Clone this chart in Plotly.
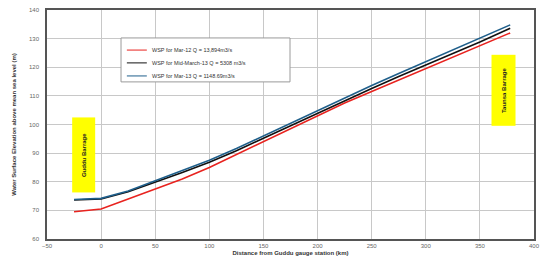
import plotly.graph_objects as go

# Data (approximate)
distance_km = [-25, 0, 25, 50, 75, 100, 125, 150, 175, 200, 225, 250, 275, 300, 325, 350, 378]
wsp_red = [69.5, 70.5, 74.0, 77.5, 81.0, 85.0, 89.5, 94.0, 98.5, 103.0, 107.5, 111.5, 115.5, 119.5, 123.5, 127.5, 132.0]
wsp_black = [73.6, 74.0, 76.5, 79.8, 83.2, 86.8, 90.8, 95.2, 99.6, 104.0, 108.4, 112.6, 116.8, 120.8, 124.8, 128.8, 133.6]
wsp_teal = [73.8, 74.2, 76.8, 80.3, 83.8, 87.5, 91.6, 96.0, 100.4, 104.9, 109.3, 113.6, 117.8, 121.9, 126.0, 130.0, 134.8]

series_names = [
    "WSP for Mar-12 Q = 13,894m3/s",
    "WSP for Mid-March-13 Q = 5308 m3/s",
    "WSP for Mar-13 Q = 1148.69m3/s",
]
series_colors = ["#e8231f", "#111111", "#1f5f8b"]
x_ticks = [-50, 0, 50, 100, 150, 200, 250, 300, 350, 400]
y_ticks = [60, 70, 80, 90, 100, 110, 120, 130, 140]

fig = go.Figure()
for ys, name, col in zip([wsp_red, wsp_black, wsp_teal], series_names, series_colors):
    fig.add_trace(go.Scatter(x=distance_km, y=ys, mode="lines", name=name,
                             line=dict(color=col, width=1.6), showlegend=False))

# Custom compact legend (box, sample lines, labels) in paper coordinates
fig.add_shape(type="rect", xref="paper", yref="paper", x0=0.152, x1=0.499, y0=0.686, y1=0.878,
              line=dict(color="#9a9a9a", width=1), fillcolor="white", layer="above")
legend_rows = [0.825, 0.769, 0.712]
for ry, name, col in zip(legend_rows, series_names, series_colors):
    fig.add_shape(type="line", xref="paper", yref="paper", x0=0.164, x1=0.205, y0=ry, y1=ry,
                  line=dict(color=col, width=1), layer="above")
    fig.add_annotation(xref="paper", yref="paper", x=0.211, y=ry, text=name, showarrow=False,
                       xanchor="left", yanchor="middle", font=dict(size=5.5, color="#333"))

fig.add_annotation(x=-16, y=89.3, xref="x", yref="y", text="<b>Guddu Barrage</b>", textangle=-90,
                   showarrow=False, bgcolor="#ffff00", font=dict(size=6, color="#222", family="Arial"),
                   width=72, height=20, borderpad=1)
fig.add_annotation(x=371.5, y=112, xref="x", yref="y", text="<b>Taunsa Barrage</b>", textangle=-90,
                   showarrow=False, bgcolor="#ffff00", font=dict(size=6, color="#222", family="Arial"),
                   width=68, height=21, borderpad=1)

fig.update_layout(
    width=543, height=266,
    margin=dict(l=47, r=9, t=10, b=27),
    paper_bgcolor="white", plot_bgcolor="white",
    font=dict(family="Arial", size=6, color="#444"),
    showlegend=False,
    xaxis=dict(range=[-50, 400], tickvals=x_ticks, showgrid=True, gridcolor="#c8c8c8",
               gridwidth=1, zeroline=False, showline=True, linecolor="#555", linewidth=1.5,
               mirror=True, ticks="", tickfont=dict(size=6, color="#666"), automargin=False,
               title=dict(text="<b>Distance from Guddu gauge station (km)</b>",
                          font=dict(size=6, color="#333"), standoff=3)),
    yaxis=dict(range=[60, 140], tickvals=y_ticks, showgrid=True, gridcolor="#c8c8c8",
               gridwidth=1, zeroline=False, showline=True, linecolor="#555", linewidth=1.5,
               mirror=True, ticks="", tickfont=dict(size=6, color="#666"), automargin=False,
               ticklabelstandoff=5,
               title=dict(text="<b>Water Surface Elevation above mean sea level (m)</b>",
                          font=dict(size=6, color="#333"), standoff=12)),
)

fig.write_html("out.html", post_script="document.body.style.margin='0';",
               config={"displayModeBar": False})
